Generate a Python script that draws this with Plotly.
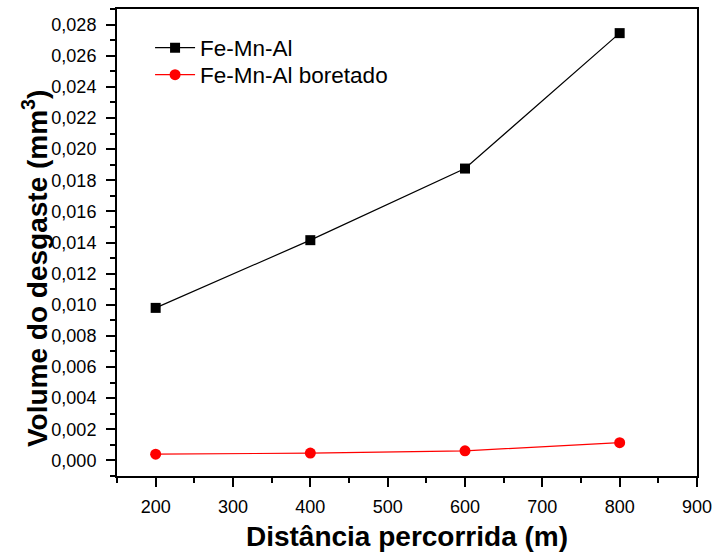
import plotly.graph_objects as go

distancia = [200, 400, 600, 800]
fe_mn_al = [0.0098, 0.01415, 0.01875, 0.02745]
fe_mn_al_boretado = [0.0004, 0.00047, 0.00062, 0.00114]
series_names = ["Fe-Mn-Al", "Fe-Mn-Al boretado"]

FONT = "Liberation Sans, Arial, sans-serif"

fig = go.Figure()
fig.add_trace(go.Scatter(
    x=distancia, y=fe_mn_al, name=series_names[0], mode="lines+markers",
    line=dict(color="black", width=1.2),
    marker=dict(symbol="square", size=10, color="black"),
    legend="legend",
))
fig.add_trace(go.Scatter(
    x=distancia, y=fe_mn_al_boretado, name=series_names[1], mode="lines+markers",
    line=dict(color="#ff0000", width=1.2),
    marker=dict(symbol="circle", size=11, color="#ff0000"),
    legend="legend2",
))

axis_common = dict(
    showline=True, linecolor="black", linewidth=2, mirror=True,
    ticks="outside", tickcolor="black", tickwidth=2, ticklen=9,
    showgrid=False, zeroline=False, automargin=False,
    tickfont=dict(family=FONT, size=18, color="black"),
)

fig.update_xaxes(
    range=[150, 900], tick0=200, dtick=100, ticklabelstandoff=4,
    minor=dict(ticks="outside", dtick=50, tick0=0, ticklen=5, tickwidth=2, tickcolor="black"),
    title=dict(text="<b>Distância percorrida (m)</b>", font=dict(family=FONT, size=28, color="black"), standoff=11),
    **axis_common,
)
fig.update_yaxes(
    range=[-0.001, 0.029], tick0=0, dtick=0.002, tickformat=".3f", ticklabelstandoff=6,
    minor=dict(ticks="outside", dtick=0.001, tick0=0, ticklen=5, tickwidth=2, tickcolor="black"),
    **axis_common,
)

# y-axis title as rotated annotation (placed slightly below the plot centre, as in the reference)
fig.add_annotation(
    text="<b>Volume do desgaste (mm<sup>3</sup>)</b>",
    xref="paper", yref="paper", x=(35 - 117) / 580, y=(476 - 269) / 467,
    xanchor="center", yanchor="middle", textangle=-90, showarrow=False,
    font=dict(family=FONT, size=28, color="black"),
)

legend_common = dict(
    xanchor="left", yanchor="middle",
    bgcolor="rgba(0,0,0,0)", borderwidth=0,
    font=dict(family=FONT, size=22.5, color="black"),
    itemwidth=40, tracegroupgap=0,
)

fig.update_layout(
    width=713, height=554,
    margin=dict(l=117, r=16, t=9, b=78),
    paper_bgcolor="white", plot_bgcolor="white",
    separators=",.",
    showlegend=True,
    legend=dict(x=0.057, y=(476 - 48) / 467, **legend_common),
    legend2=dict(x=0.057, y=(476 - 75) / 467, **legend_common),
)

fig.write_html(
    "out.html",
    config={"displayModeBar": False, "staticPlot": True},
    post_script="document.body.style.margin='0';document.body.style.overflow='hidden';",
)
